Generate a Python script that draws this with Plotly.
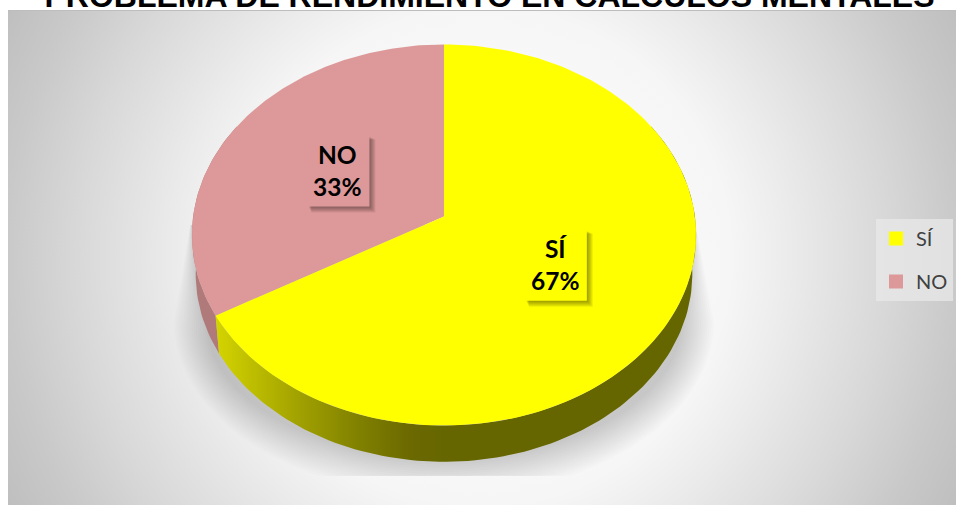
import numpy as np
import plotly.graph_objects as go

# ---- data ----
categories = ["SÍ", "NO"]
values = [66.67, 33.33]
title_text = "PROBLEMA DE RENDIMIENTO EN CÁLCULOS MENTALES"
face_colors = ["#FFFF00", "#DD9999"]

# ---- pie geometry (tilted disc in perspective) ----
CX, AY = 444.0, 216.5
K = 0.0971
RX, RY = 250.9, 188.7
DEPTH, BOTTOM_SCALE = 39.4, 0.985


def project(theta_deg, r=1.0, lower=False):
    t = np.radians(theta_deg)
    w = 1 + K * r * np.cos(t)
    s = BOTTOM_SCALE if lower else 1.0
    x = CX + s * r * RX * np.sin(t) / w
    y = AY + (DEPTH if lower else 0.0) - s * r * RY * np.cos(t) / w
    return x, y


shares = np.array(values, dtype=float) / sum(values)
edges = np.concatenate([[0.0], np.cumsum(shares) * 360.0])

fig = go.Figure()

# background: radial gradient clipped to the plot area
bx, by, br = 482, 257, 540
fig.add_trace(go.Scatter(
    x=[bx - br, bx + br, bx + br, bx - br, bx - br],
    y=[by - br, by - br, by + br, by + br, by - br],
    mode="lines", line=dict(width=0), fill="toself", hoverinfo="skip", showlegend=False,
    fillgradient=dict(type="radial", colorscale=[
        [0, "#FFFFFF"], [0.46, "#F6F6F6"], [0.57, "#EBEBEB"], [0.75, "#D8D8D8"],
        [0.88, "#C9C9C9"], [1, "#BEBEBE"]]),
))

# soft cast shadow as stacked translucent outlines, cut off flat at the bottom
N = 16
CUT = 476
for k in range(N):
    f = k / (N - 1)
    rx = 238 + 32 * f
    ry = 138 + 36 * f
    cy = 322
    a = np.linspace(-90, 90, 91)
    sx = 444 + rx * np.sin(np.radians(a))
    sy = np.minimum(cy + ry * np.cos(np.radians(a)), CUT)
    top_l = 190 + 2 * (1 - f)
    top_r = 696 - 2 * (1 - f)
    px = np.concatenate([[top_l], sx, [top_r], [top_l]])
    py = np.concatenate([[225], sy, [225], [225]])
    fig.add_trace(go.Scatter(x=px, y=py, mode="lines", line=dict(width=0), fill="toself",
                             fillcolor="rgba(0,0,0,0.013)", hoverinfo="skip", showlegend=False))

# side walls
th_pink = np.linspace(edges[1], 300, 40)
xt, yt = project(th_pink)
xb, yb = project(th_pink, lower=True)
fig.add_trace(go.Scatter(x=np.concatenate([xt, xb[::-1]]), y=np.concatenate([yt, yb[::-1]]),
                         mode="lines", line=dict(width=0), fill="toself", fillcolor="#B07A7A",
                         hoverinfo="skip", showlegend=False))
th_yel = np.linspace(60, edges[1], 120)
xt, yt = project(th_yel)
xb, yb = project(th_yel, lower=True)
fig.add_trace(go.Scatter(x=np.concatenate([xt, xb[::-1]]), y=np.concatenate([yt, yb[::-1]]),
                         mode="lines", line=dict(width=0), fill="toself", hoverinfo="skip", showlegend=False,
                         fillgradient=dict(type="horizontal", start=216, stop=444, colorscale=[
                             [0, "#D4D400"], [0.37, "#A0A000"], [0.63, "#808000"],
                             [0.85, "#6B6900"], [1, "#666600"]])))

# top faces
for i in (1, 0):
    th = np.linspace(edges[i], edges[i + 1], 160)
    x, y = project(th)
    fig.add_trace(go.Scatter(x=np.concatenate([[CX], x, [CX]]), y=np.concatenate([[AY], y, [AY]]),
                             mode="lines", line=dict(width=0), fill="toself", fillcolor=face_colors[i],
                             hoverinfo="skip", showlegend=False))

# legend entries
for i, name in enumerate(categories):
    fig.add_trace(go.Scatter(x=[None], y=[None], mode="markers", name=name, legendgroup=name,
                             marker=dict(symbol="square", size=14, color=face_colors[i])))

# data labels with drop shadow
shapes = [dict(type="line", xref="x", yref="y", x0=8, x1=956, y0=10.5, y1=10.5,
               line=dict(color="#BDBDBD", width=1), layer="above")]
annotations = []
box_w, box_h = 63, 72
for i, name in enumerate(categories):
    mid = (edges[i] + edges[i + 1]) / 2
    lx, ly = project(mid, r=0.5)
    for off in range(1, 7):
        shapes.append(dict(type="rect", xref="x", yref="y", layer="above", line=dict(width=0),
                           x0=lx - box_w / 2 + 2 + off * 0.5, x1=lx + box_w / 2 + off,
                           y0=ly - box_h / 2 + 2 + off * 0.5, y1=ly + box_h / 2 + off,
                           fillcolor="rgba(0,0,0,0.07)"))
    shapes.append(dict(type="rect", xref="x", yref="y", layer="above", line=dict(width=0),
                       x0=lx - box_w / 2, x1=lx + box_w / 2, y0=ly - box_h / 2, y1=ly + box_h / 2,
                       fillcolor=face_colors[i]))
    annotations.append(dict(x=lx, y=ly, xref="x", yref="y", showarrow=False,
                            text=f"{name}<br>{round(values[i])}%", align="center",
                            font=dict(family="Lato", size=24.5, color="#000000", weight="bold")))

fig.update_layout(
    width=956, height=505,
    margin=dict(l=8, r=0, t=10, b=0),
    autosize=False,
    paper_bgcolor="#FFFFFF", plot_bgcolor="#FFFFFF",
    xaxis=dict(range=[8, 956], visible=False, fixedrange=True),
    yaxis=dict(range=[505, 10], visible=False, fixedrange=True),
    title=dict(text=f"<b>{title_text}</b>", x=489.5 / 956, xanchor="center", xref="container",
               y=1 - 7 / 505, yref="container", yanchor="bottom",
               font=dict(family="Liberation Sans", size=32, color="#000000")),
    shapes=shapes, annotations=annotations,
    legend=dict(x=(876 - 8) / 948, xanchor="left", y=1 - (219 - 10) / 495, yanchor="top",
                bgcolor="rgba(232,232,232,0.75)", tracegroupgap=14,
                font=dict(family="Lato", size=20, color="#404040")),
    showlegend=True,
)

fig.write_html("out.html", config={"displayModeBar": False},
               post_script="document.body.style.margin='0';")
